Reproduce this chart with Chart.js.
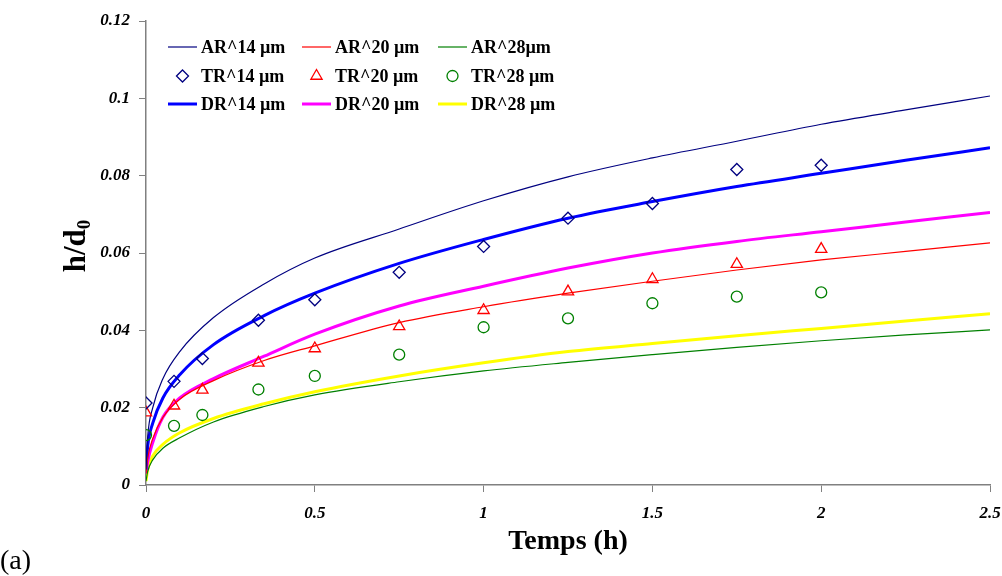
<!DOCTYPE html>
<html>
<head>
<meta charset="utf-8">
<title>h/d0 - Temps (h)</title>
<script src="https://cdn.jsdelivr.net/npm/chart.js"></script>
<style>
  html, body { margin: 0; padding: 0; background: #fff; }
  #wrap { width: 1002px; height: 576px; }
</style>
</head>
<body>
<div id="wrap"><canvas id="chart" width="1002" height="576"></canvas></div>
<script>
// model curves (AR = analytical, DR = numerical), sampled times in hours
const curveTimes = [0, 0.005, 0.02, 0.05, 0.1, 0.2, 0.35, 0.5, 0.75, 1, 1.25, 1.5, 1.75, 2, 2.25, 2.5];
const ar14 = [0.004, 0.0125, 0.020, 0.0275, 0.0345, 0.0433, 0.0520, 0.0587, 0.0662, 0.0735, 0.0797, 0.0846, 0.0889, 0.0933, 0.0970, 0.1006];
const ar20 = [0.003, 0.007, 0.012, 0.0175, 0.0222, 0.0270, 0.0322, 0.0360, 0.0420, 0.0461, 0.0496, 0.0527, 0.0556, 0.0582, 0.0604, 0.0626];
const ar28 = [0.001, 0.0035, 0.0065, 0.0095, 0.0122, 0.0163, 0.0203, 0.0233, 0.0267, 0.0295, 0.0317, 0.0337, 0.0356, 0.0373, 0.0388, 0.0401];
const dr14 = [0.004, 0.010, 0.016, 0.0225, 0.0285, 0.0363, 0.0438, 0.0496, 0.0573, 0.0635, 0.0690, 0.0733, 0.0772, 0.0806, 0.0840, 0.0872];
const dr20 = [0.003, 0.006, 0.011, 0.0175, 0.0225, 0.0275, 0.0333, 0.0390, 0.0463, 0.0514, 0.0561, 0.0600, 0.0630, 0.0655, 0.0680, 0.0705];
const dr28 = [0.001, 0.004, 0.0075, 0.0105, 0.0135, 0.0172, 0.0210, 0.0241, 0.0282, 0.0316, 0.0345, 0.0366, 0.0386, 0.0405, 0.0424, 0.0443];

// test results (TR)
const testTimes = [0, 0.083, 0.167, 0.333, 0.5, 0.75, 1, 1.25, 1.5, 1.75, 2];
const tr14 = [0.0212, 0.0268, 0.0327, 0.0426, 0.0479, 0.0550, 0.0617, 0.0690, 0.0728, 0.0816, 0.0827];
const tr20 = [0.0187, 0.0205, 0.0246, 0.0316, 0.0353, 0.0410, 0.0452, 0.0500, 0.0532, 0.0571, 0.0610];
const tr28 = [0.0129, 0.0153, 0.0181, 0.0247, 0.0282, 0.0337, 0.0408, 0.0431, 0.0470, 0.0487, 0.0498];

const legendLabels = ['AR^14 µm', 'AR^20 µm', 'AR^28µm', 'TR^14 µm', 'TR^20 µm', 'TR^28 µm', 'DR^14 µm', 'DR^20 µm', 'DR^28 µm'];
const xTicks = [0, 0.5, 1, 1.5, 2, 2.5];
const yTicks = [0, 0.02, 0.04, 0.06, 0.08, 0.1, 0.12];

const SERIF = '"Liberation Serif", "Times New Roman", serif';
const pts = (xs, ys) => xs.map((x, i) => ({ x, y: ys[i] }));

function curve(label, data, color, width, order) {
  return {
    label, data: pts(curveTimes, data), showLine: true,
    borderColor: color, backgroundColor: color, borderWidth: width,
    pointRadius: 0, cubicInterpolationMode: 'monotone', order
  };
}
function marks(label, data, color, style, radius) {
  return {
    label, data: pts(testTimes, data), showLine: false,
    borderColor: color, backgroundColor: 'transparent', borderWidth: 1.3,
    pointStyle: style, pointRadius: radius, order: 0
  };
}

// same order as the legend grid (row by row)
const datasets = [
  curve(legendLabels[0], ar14, '#000080', 1.2, 1),
  curve(legendLabels[1], ar20, '#FF0000', 1.2, 1),
  curve(legendLabels[2], ar28, '#008000', 1.2, 1),
  marks(legendLabels[3], tr14, '#000080', 'rectRot', 6),
  marks(legendLabels[4], tr20, '#FF0000', 'triangle', 6.5),
  marks(legendLabels[5], tr28, '#008000', 'circle', 5.5),
  curve(legendLabels[6], dr14, '#0000FF', 3, 2),
  curve(legendLabels[7], dr20, '#FF00FF', 3, 2),
  curve(legendLabels[8], dr28, '#FFFF00', 3, 2)
];

const fmt = v => String(Number(v.toFixed(2)));

// legend inside the plot + axis titles + panel tag
const decorations = {
  id: 'decorations',
  afterDraw(chart) {
    const { ctx, chartArea } = chart;
    ctx.save();

    const colX = [22, 156, 292], rowY = [26, 55, 83];
    ctx.font = 'bold 18px ' + SERIF;
    ctx.textBaseline = 'middle';
    ctx.textAlign = 'left';
    chart.data.datasets.forEach((ds, i) => {
      const x = chartArea.left + colX[i % 3];
      const y = chartArea.top + rowY[Math.floor(i / 3)];
      if (ds.showLine) {
        ctx.strokeStyle = ds.borderColor;
        ctx.lineWidth = ds.borderWidth;
        ctx.beginPath();
        ctx.moveTo(x, y);
        ctx.lineTo(x + 29, y);
        ctx.stroke();
      } else {
        ctx.strokeStyle = ds.borderColor;
        ctx.fillStyle = 'transparent';
        ctx.lineWidth = ds.borderWidth;
        Chart.helpers.drawPoint(ctx, { pointStyle: ds.pointStyle, radius: ds.pointRadius, rotation: 0, borderWidth: ds.borderWidth }, x + 14.5, y);
      }
      ctx.fillStyle = '#000';
      ctx.fillText(ds.label, x + 33, y + 1);
    });

    // x title
    ctx.fillStyle = '#000';
    ctx.textAlign = 'center';
    ctx.font = 'bold 28px ' + SERIF;
    ctx.fillText('Temps (h)', (chartArea.left + chartArea.right) / 2, 542);

    // y title h/d0 with subscript
    ctx.save();
    ctx.translate(85, 246);
    ctx.rotate(-Math.PI / 2);
    ctx.textBaseline = 'alphabetic';
    ctx.textAlign = 'left';
    ctx.font = 'bold 31px ' + SERIF;
    const main = 'h/d';
    const wMain = ctx.measureText(main).width;
    ctx.font = 'bold 19px ' + SERIF;
    const wSub = ctx.measureText('0').width;
    const start = -(wMain + wSub) / 2;
    ctx.font = 'bold 31px ' + SERIF;
    ctx.fillText(main, start, 0);
    ctx.font = 'bold 19px ' + SERIF;
    ctx.fillText('0', start + wMain, 5);
    ctx.restore();

    // panel tag
    ctx.textAlign = 'left';
    ctx.textBaseline = 'alphabetic';
    ctx.font = '28px ' + SERIF;
    ctx.fillText('(a)', 0, 569);

    ctx.restore();
  }
};

const axisFont = { family: SERIF, size: 17, weight: 'bold', style: 'italic' };

new Chart(document.getElementById('chart'), {
  type: 'scatter',
  data: { datasets },
  options: {
    responsive: false,
    animation: false,
    layout: { padding: { top: 21, right: 0, left: 0, bottom: 0 } },
    plugins: { legend: { display: false }, tooltip: { enabled: false } },
    scales: {
      x: {
        type: 'linear', min: 0, max: 2.5,
        afterBuildTicks: s => { s.ticks = xTicks.map(v => ({ value: v })); },
        afterFit: s => { s.height = 91; s.paddingRight = 12; },
        border: { color: '#808080', width: 1.5 },
        grid: { drawOnChartArea: false, tickLength: 7, color: '#808080' },
        ticks: { font: axisFont, color: '#000', padding: 11, maxRotation: 0, callback: fmt }
      },
      y: {
        type: 'linear', min: 0, max: 0.12,
        afterBuildTicks: s => { s.ticks = yTicks.map(v => ({ value: v })); },
        afterFit: s => { s.width = 146; },
        border: { color: '#808080', width: 1.5 },
        grid: { drawOnChartArea: false, tickLength: 7, color: '#808080' },
        ticks: { font: axisFont, color: '#000', padding: 9, callback: fmt }
      }
    }
  },
  plugins: [decorations]
});
</script>
</body>
</html>
